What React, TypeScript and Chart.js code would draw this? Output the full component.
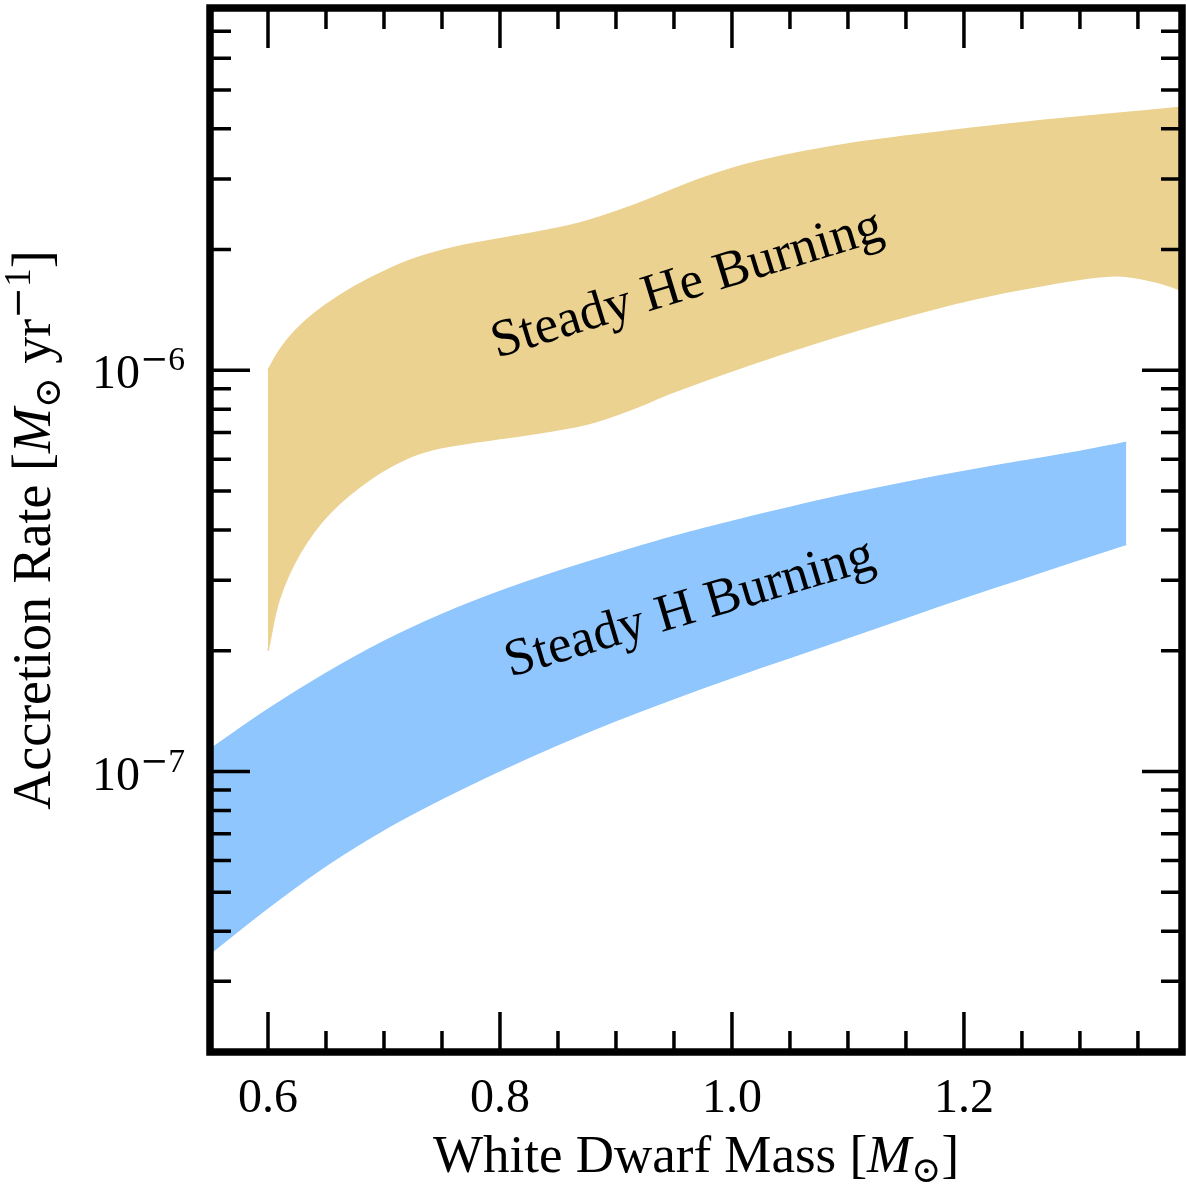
import React, { useEffect, useRef } from 'react';
import { Chart, registerables } from 'chart.js';

Chart.register(...registerables);

// ---- Data ----
// Steady He burning band: upper and lower edges
const heUpperMass = [0.600, 0.610, 0.623, 0.640, 0.662, 0.688, 0.722, 0.765, 0.817, 0.868, 0.920, 0.972, 1.023, 1.109, 1.206, 1.269, 1.333, 1.390];
const heUpperRate = [1.00e-6, 1.122e-6, 1.251e-6, 1.387e-6, 1.538e-6, 1.696e-6, 1.880e-6, 2.038e-6, 2.171e-6, 2.326e-6, 2.609e-6, 2.995e-6, 3.320e-6, 3.70e-6, 4.01e-6, 4.20e-6, 4.37e-6, 4.53e-6];
const heLowerMass = [0.600, 0.610, 0.628, 0.653, 0.688, 0.722, 0.751, 0.808, 0.843, 0.877, 0.911, 0.949, 1.014, 1.077, 1.141, 1.206, 1.269, 1.330, 1.366, 1.390];
const heLowerRate = [2.00e-7, 2.70e-7, 3.52e-7, 4.40e-7, 5.35e-7, 6.07e-7, 6.43e-7, 6.81e-7, 7.05e-7, 7.37e-7, 7.95e-7, 8.81e-7, 1.029e-6, 1.181e-6, 1.340e-6, 1.50e-6, 1.63e-6, 1.72e-6, 1.66e-6, 1.575e-6];

// Steady H burning band
const hMass = [0.55, 0.60, 0.65, 0.70, 0.75, 0.80, 0.85, 0.90, 0.95, 1.00, 1.05, 1.10, 1.15, 1.20, 1.25, 1.30, 1.34];
const hUpper = [1.135e-7, 1.428e-7, 1.756e-7, 2.110e-7, 2.464e-7, 2.811e-7, 3.153e-7, 3.497e-7, 3.855e-7, 4.201e-7, 4.553e-7, 4.908e-7, 5.256e-7, 5.600e-7, 5.931e-7, 6.281e-7, 6.614e-7];
const hLower = [3.52e-8, 4.58e-8, 5.83e-8, 7.17e-8, 8.56e-8, 1.006e-7, 1.168e-7, 1.340e-7, 1.521e-7, 1.716e-7, 1.925e-7, 2.159e-7, 2.421e-7, 2.716e-7, 3.029e-7, 3.379e-7, 3.683e-7];

// Axis ranges and ticks
const xRange = [0.55, 1.388];
const yRange = [2e-8, 8e-6];
const xMajorTicks = [0.6, 0.8, 1.0, 1.2];
const xMajorLabels = ['0.6', '0.8', '1.0', '1.2'];
const xMinorTicks = [0.55, 0.65, 0.7, 0.75, 0.85, 0.9, 0.95, 1.05, 1.1, 1.15, 1.25, 1.3, 1.35];
const yMajorTicks = [1e-7, 1e-6];
const yMajorExponents = ['7', '6'];
const yMinorTicks = [2e-8, 3e-8, 4e-8, 5e-8, 6e-8, 7e-8, 8e-8, 9e-8, 2e-7, 3e-7, 4e-7, 5e-7, 6e-7, 7e-7, 8e-7, 9e-7, 2e-6, 3e-6, 4e-6, 5e-6, 6e-6, 7e-6, 8e-6];

// Annotation texts and their anchor (mass, rate, angle in degrees)
const heLabel = 'Steady He Burning';
const heLabelAt = [0.965, 1.51e-6, -17];
const hLabel = 'Steady H Burning';
const hLabelAt = [0.967, 2.35e-7, -16.5];

const HE_COLOR = '#ebd291';
const H_COLOR = '#8fc6fd';
const SERIF = '"Liberation Serif", "DejaVu Serif", serif';
const SYMBOL_FONT = '"DejaVu Serif", "DejaVu Sans", serif';

type Seg = { t: string; italic?: boolean; scale?: number; dy?: number; sym?: boolean };

function segFont(s: Seg, size: number) {
  const sz = size * (s.scale ?? 1);
  return `${s.italic ? 'italic ' : ''}${sz}px ${s.sym ? SYMBOL_FONT : SERIF}`;
}
function measureSegs(ctx: CanvasRenderingContext2D, segs: Seg[], size: number) {
  let w = 0;
  for (const s of segs) {
    ctx.font = segFont(s, size);
    w += ctx.measureText(s.t).width;
  }
  return w;
}
function drawSegs(ctx: CanvasRenderingContext2D, segs: Seg[], size: number, x: number, y: number) {
  let cx = x;
  ctx.textAlign = 'left';
  ctx.textBaseline = 'alphabetic';
  for (const s of segs) {
    ctx.font = segFont(s, size);
    ctx.fillText(s.t, cx, y + (s.dy ?? 0));
    cx += ctx.measureText(s.t).width;
  }
}

const framePlugin = {
  id: 'frameAndText',
  afterDraw(chart: any) {
    const ctx: CanvasRenderingContext2D = chart.ctx;
    const { left, right, top, bottom } = chart.chartArea;
    const xs = chart.scales.x;
    const ys = chart.scales.y;
    ctx.save();
    ctx.fillStyle = '#000';
    ctx.strokeStyle = '#000';

    // inward ticks on all four sides
    const MAJ = 40, MIN = 21;
    ctx.lineWidth = 3.5;
    ctx.lineCap = 'butt';
    const tickX = (v: number, len: number) => {
      const p = xs.getPixelForValue(v);
      ctx.beginPath();
      ctx.moveTo(p, bottom); ctx.lineTo(p, bottom - len);
      ctx.moveTo(p, top); ctx.lineTo(p, top + len);
      ctx.stroke();
    };
    const tickY = (v: number, len: number) => {
      const p = ys.getPixelForValue(v);
      ctx.beginPath();
      ctx.moveTo(left, p); ctx.lineTo(left + len, p);
      ctx.moveTo(right, p); ctx.lineTo(right - len, p);
      ctx.stroke();
    };
    xMajorTicks.forEach(v => tickX(v, MAJ));
    xMinorTicks.forEach(v => tickX(v, MIN));
    yMajorTicks.forEach(v => tickY(v, MAJ));
    yMinorTicks.forEach(v => tickY(v, MIN));

    // frame
    ctx.lineWidth = 7.5;
    ctx.lineJoin = 'miter';
    ctx.strokeRect(left, top, right - left, bottom - top);

    // x tick labels
    ctx.font = `48px ${SERIF}`;
    ctx.textAlign = 'center';
    ctx.textBaseline = 'alphabetic';
    xMajorTicks.forEach((v, i) => {
      ctx.fillText(xMajorLabels[i], xs.getPixelForValue(v), bottom + 60);
    });

    // y tick labels 10^{-n}
    yMajorTicks.forEach((v, i) => {
      const p = ys.getPixelForValue(v);
      const segs: Seg[] = [
        { t: '10' },
        { t: '\u2212', scale: 0.7, dy: -18, sym: true },
        { t: yMajorExponents[i], scale: 0.7, dy: -18 },
      ];
      const w = measureSegs(ctx, segs, 48);
      drawSegs(ctx, segs, 48, left - 25 - w, p + 18);
    });

    const TS = 53;
    // x title
    const xTitle: Seg[] = [
      { t: 'White Dwarf Mass [' },
      { t: 'M', italic: true },
      { t: '\u2299', scale: 0.68, dy: 10, sym: true },
      { t: ']' },
    ];
    const xw = measureSegs(ctx, xTitle, TS);
    drawSegs(ctx, xTitle, TS, (left + right) / 2 - xw / 2, 1172);

    // y title
    const yTitle: Seg[] = [
      { t: 'Accretion Rate [' },
      { t: 'M', italic: true },
      { t: '\u2299', scale: 0.68, dy: 10, sym: true },
      { t: ' yr' },
      { t: '\u2212', scale: 0.7, dy: -20, sym: true },
      { t: '1', scale: 0.7, dy: -20 },
      { t: ']' },
    ];
    const yw = measureSegs(ctx, yTitle, 54);
    ctx.save();
    ctx.translate(50, (top + bottom) / 2);
    ctx.rotate(-Math.PI / 2);
    drawSegs(ctx, yTitle, 54, -yw / 2, 0);
    ctx.restore();

    // band annotations
    const annot = (text: string, at: number[]) => {
      ctx.save();
      ctx.translate(xs.getPixelForValue(at[0]), ys.getPixelForValue(at[1]));
      ctx.rotate((at[2] * Math.PI) / 180);
      ctx.font = `${TS}px ${SERIF}`;
      ctx.textAlign = 'center';
      ctx.textBaseline = 'alphabetic';
      ctx.fillText(text, 0, 0);
      ctx.restore();
    };
    annot(heLabel, heLabelAt);
    annot(hLabel, hLabelAt);

    ctx.restore();
  },
};

function edge(mass: number[], vals: number[], color: string, fill: any) {
  return {
    data: mass.map((x, i) => ({ x, y: vals[i] })),
    fill,
    backgroundColor: color,
    borderColor: color,
    borderWidth: 1.5,
    pointRadius: 0,
    tension: 0.35,
  };
}

export default function App() {
  const ref = useRef<HTMLCanvasElement | null>(null);
  useEffect(() => {
    const canvas = ref.current;
    if (!canvas) return;
    const chart = new Chart(canvas, {
      type: 'line',
      data: {
        datasets: [
          edge(heUpperMass, heUpperRate, HE_COLOR, '+1'),
          edge(heLowerMass, heLowerRate, HE_COLOR, false),
          edge(hMass, hUpper, H_COLOR, '+1'),
          edge(hMass, hLower, H_COLOR, false),
        ] as any,
      },
      options: {
        animation: false,
        responsive: false,
        devicePixelRatio: 1,
        layout: { padding: { top: 8, right: 4, left: 0, bottom: 0 } },
        plugins: { legend: { display: false }, tooltip: { enabled: false } },
        scales: {
          x: {
            type: 'linear',
            min: xRange[0],
            max: xRange[1],
            grid: { display: false },
            ticks: { display: false },
            border: { display: false },
            afterFit: (s: any) => { s.height = 134; },
          },
          y: {
            type: 'logarithmic',
            min: yRange[0],
            max: yRange[1],
            grid: { display: false },
            ticks: { display: false },
            border: { display: false },
            afterFit: (s: any) => { s.width = 210; },
          },
        },
      } as any,
      plugins: [framePlugin],
    });
    return () => chart.destroy();
  }, []);
  return (
    <div style={{ position: 'fixed', left: 0, top: 0, width: 1186, height: 1186, background: '#fff' }}>
      <canvas ref={ref} width={1186} height={1186} style={{ width: 1186, height: 1186, display: 'block' }} />
    </div>
  );
}
